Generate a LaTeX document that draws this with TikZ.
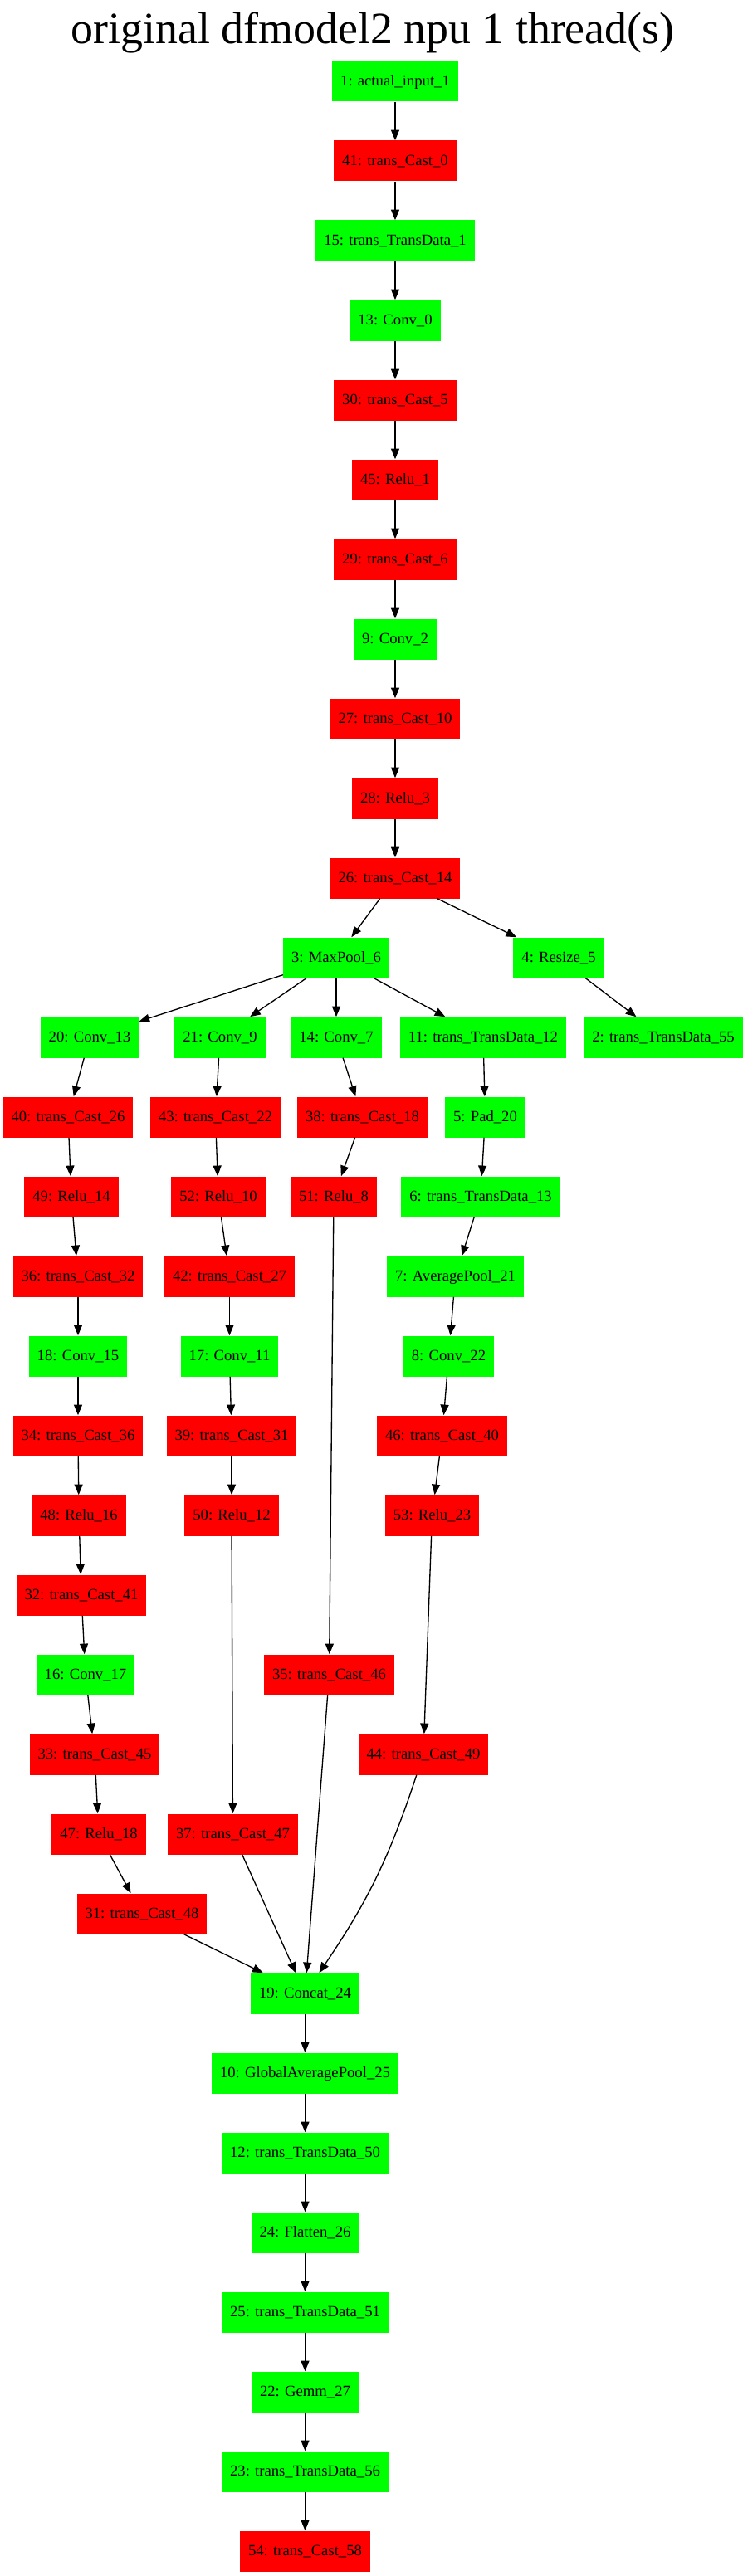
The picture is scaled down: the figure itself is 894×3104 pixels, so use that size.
\documentclass[tikz,border=0pt]{standalone}
\usepackage{fontspec}
\setmainfont{Liberation Serif}
\usetikzlibrary{arrows.meta}
\definecolor{gfill}{RGB}{0,255,0}
\definecolor{rfill}{RGB}{255,0,0}
\tikzset{
  op/.style={rectangle, minimum height=36.75pt, inner xsep=7.45pt, inner ysep=0pt,
    text height=11pt, text depth=3pt, font=\fontsize{14}{16}\selectfont},
  gn/.style={op, fill=gfill},
  rn/.style={op, fill=rfill},
  link/.style={-{Triangle[length=9.5pt,width=7.5pt]}, line width=1pt, black}
}
\begin{document}
\begin{tikzpicture}[x=0.75pt,y=-0.75pt]
\useasboundingbox (0,0) rectangle (894,3104);
\node[anchor=base, font=\fontsize{40.4}{48}\selectfont] (title) at (449,53) {original dfmodel2 npu 1 thread(s)};
% main chain
\node[gn] (n1) at (476,98) {1: actual\_input\_1};
\node[rn] (n41) at (476,194) {41: trans\_Cast\_0};
\node[gn] (n15) at (476,290) {15: trans\_TransData\_1};
\node[gn] (n13) at (476,386) {13: Conv\_0};
\node[rn] (n30) at (476,482) {30: trans\_Cast\_5};
\node[rn] (n45) at (476,578) {45: Relu\_1};
\node[rn] (n29) at (476,674) {29: trans\_Cast\_6};
\node[gn] (n9) at (476,770) {9: Conv\_2};
\node[rn] (n27) at (476,866) {27: trans\_Cast\_10};
\node[rn] (n28) at (476,962) {28: Relu\_3};
\node[rn] (n26) at (476,1058) {26: trans\_Cast\_14};
\node[gn] (n3) at (405,1154) {3: MaxPool\_6};
\node[gn] (n4) at (673,1154) {4: Resize\_5};
% rank 12
\node[gn] (n20) at (108,1250) {20: Conv\_13};
\node[gn] (n21) at (265,1250) {21: Conv\_9};
\node[gn] (n14) at (405,1250) {14: Conv\_7};
\node[gn] (n11) at (582,1250) {11: trans\_TransData\_12};
\node[gn] (n2) at (799,1250) {2: trans\_TransData\_55};
% rank 13
\node[rn] (n40) at (82,1346) {40: trans\_Cast\_26};
\node[rn] (n43) at (259.5,1346) {43: trans\_Cast\_22};
\node[rn] (n38) at (436.5,1346) {38: trans\_Cast\_18};
\node[gn] (n5) at (584.5,1346) {5: Pad\_20};
% rank 14
\node[rn] (n49) at (86,1442) {49: Relu\_14};
\node[rn] (n52) at (263,1442) {52: Relu\_10};
\node[rn] (n51) at (402,1442) {51: Relu\_8};
\node[gn] (n6) at (579,1442) {6: trans\_TransData\_13};
% rank 15
\node[rn] (n36) at (94,1538) {36: trans\_Cast\_32};
\node[rn] (n42) at (276.5,1538) {42: trans\_Cast\_27};
\node[gn] (n7) at (548.5,1538) {7: AveragePool\_21};
% rank 16
\node[gn] (n18) at (94,1634) {18: Conv\_15};
\node[gn] (n17) at (276.5,1634) {17: Conv\_11};
\node[gn] (n8) at (540.5,1634) {8: Conv\_22};
% rank 17
\node[rn] (n34) at (94,1730) {34: trans\_Cast\_36};
\node[rn] (n39) at (279,1730) {39: trans\_Cast\_31};
\node[rn] (n46) at (532.5,1730) {46: trans\_Cast\_40};
% rank 18
\node[rn] (n48) at (95,1826) {48: Relu\_16};
\node[rn] (n50) at (279,1826) {50: Relu\_12};
\node[rn] (n53) at (520.5,1826) {53: Relu\_23};
% rank 19-23
\node[rn] (n32) at (98,1922) {32: trans\_Cast\_41};
\node[gn] (n16) at (103,2018) {16: Conv\_17};
\node[rn] (n35) at (396.5,2018) {35: trans\_Cast\_46};
\node[rn] (n33) at (114,2114) {33: trans\_Cast\_45};
\node[rn] (n44) at (510,2114) {44: trans\_Cast\_49};
\node[rn] (n47) at (119,2210) {47: Relu\_18};
\node[rn] (n37) at (280.5,2210) {37: trans\_Cast\_47};
\node[rn] (n31) at (171,2306) {31: trans\_Cast\_48};
% bottom chain
\node[gn] (n19) at (367.5,2402) {19: Concat\_24};
\node[gn] (n10) at (367.5,2498) {10: GlobalAveragePool\_25};
\node[gn] (n12) at (367.5,2594) {12: trans\_TransData\_50};
\node[gn] (n24) at (367.5,2690) {24: Flatten\_26};
\node[gn] (n25) at (367.5,2786) {25: trans\_TransData\_51};
\node[gn] (n22) at (367.5,2882) {22: Gemm\_27};
\node[gn] (n23) at (367.5,2978) {23: trans\_TransData\_56};
\node[rn] (n54) at (367.5,3074) {54: trans\_Cast\_58};
% edges
\draw[link] (n1) -- (n41);
\draw[link] (n41) -- (n15);
\draw[link] (n15) -- (n13);
\draw[link] (n13) -- (n30);
\draw[link] (n30) -- (n45);
\draw[link] (n45) -- (n29);
\draw[link] (n29) -- (n9);
\draw[link] (n9) -- (n27);
\draw[link] (n27) -- (n28);
\draw[link] (n28) -- (n26);
\draw[link] (n26) -- (n3);
\draw[link] (n26) -- (n4);
\draw[link] (n3) -- (n20);
\draw[link] (n3) -- (n21);
\draw[link] (n3) -- (n14);
\draw[link] (n3) -- (n11);
\draw[link] (n4) -- (n2);
\draw[link] (n20) -- (n40);
\draw[link] (n40) -- (n49);
\draw[link] (n49) -- (n36);
\draw[link] (n36) -- (n18);
\draw[link] (n18) -- (n34);
\draw[link] (n34) -- (n48);
\draw[link] (n48) -- (n32);
\draw[link] (n32) -- (n16);
\draw[link] (n16) -- (n33);
\draw[link] (n33) -- (n47);
\draw[link] (n47) -- (n31);
\draw[link] (n31) -- (n19);
\draw[link] (n21) -- (n43);
\draw[link] (n43) -- (n52);
\draw[link] (n52) -- (n42);
\draw[link] (n42) -- (n17);
\draw[link] (n17) -- (n39);
\draw[link] (n39) -- (n50);
\draw[link] (n50) -- (n37);
\draw[link] (n37) -- (n19);
\draw[link] (n14) -- (n38);
\draw[link] (n38) -- (n51);
\draw[link] (n51) -- (n35);
\draw[link] (n35) -- (n19);
\draw[link] (n11) -- (n5);
\draw[link] (n5) -- (n6);
\draw[link] (n6) -- (n7);
\draw[link] (n7) -- (n8);
\draw[link] (n8) -- (n46);
\draw[link] (n46) -- (n53);
\draw[link] (n53) -- (n44);
\draw[link] (n44) to[bend left=8] (n19);
\draw[link] (n19) -- (n10);
\draw[link] (n10) -- (n12);
\draw[link] (n12) -- (n24);
\draw[link] (n24) -- (n25);
\draw[link] (n25) -- (n22);
\draw[link] (n22) -- (n23);
\draw[link] (n23) -- (n54);
\end{tikzpicture}
\end{document}
